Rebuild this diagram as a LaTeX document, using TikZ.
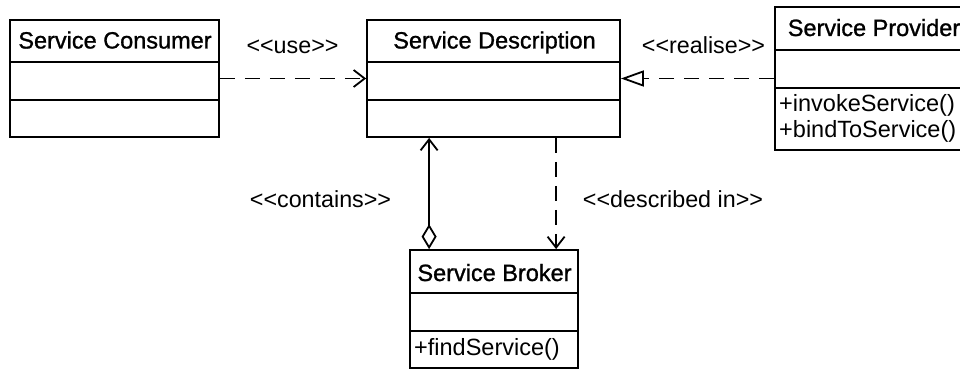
\documentclass[tikz,border=0pt]{standalone}
\usepackage{fontspec}
\setmainfont{Liberation Sans}
\newfontfamily\titlefont[FakeBold=1.1]{Liberation Sans}
\usetikzlibrary{arrows.meta}
\tikzset{
  box/.style={draw, line width=1.8pt, rectangle, inner sep=0pt},
  rule/.style={line width=1.8pt},
  title/.style={font=\titlefont\fontsize{23.5}{27}\selectfont, anchor=base, inner sep=0pt},
  member/.style={font=\fontsize{23.5}{27}\selectfont, anchor=base west, inner sep=0pt},
  stereo/.style={font=\fontsize{23.3}{27}\selectfont, anchor=base, inner sep=0pt},
  dep/.style={line width=1.8pt, dash pattern=on 15pt off 10pt},
  openarrow/.style={-{Straight Barb[length=11pt, width=17pt, line width=1.8pt]}},
}
\begin{document}
\begin{tikzpicture}[x=1pt, y=-1pt]
\useasboundingbox (0,0) rectangle (960,369);
\clip (0,0) rectangle (960,369);
\fill[white] (0,0) rectangle (960,369);

% Service Consumer
\node[box, minimum width=209pt, minimum height=117pt] (cons) at (114.5,78.5) {};
\draw[rule] (10,62) -- (219,62) (10,100) -- (219,100);
\node[title] (consT) at (115,48.5) {Service Consumer};

% Service Description
\node[box, minimum width=253pt, minimum height=117pt] (desc) at (493.5,78.5) {};
\draw[rule] (367,62) -- (620,62) (367,100) -- (620,100);
\node[title] (descT) at (494.5,48.5) {Service Description};

% Service Provider
\node[box, minimum width=198pt, minimum height=143pt] (prov) at (874,78.5) {};
\draw[rule] (775,50) -- (973,50) (775,88) -- (973,88);
\node[title] (provT) at (874,36) {Service Provider};
\node[member] (provM1) at (779,111) {+invokeService()};
\node[member] (provM2) at (779,137) {+bindToService()};

% Service Broker
\node[box, minimum width=168pt, minimum height=118pt] (brok) at (494,309) {};
\draw[rule] (410,293) -- (578,293) (410,331) -- (578,331);
\node[title] (brokT) at (494.5,281) {Service Broker};
\node[member] (brokM1) at (414,355) {+findService()};

% Relationships
\draw[dep, openarrow] (cons.east) -- (desc.west);
\draw[dep, -{Triangle[open, length=23pt, width=16pt, line width=1.8pt]}] (prov.west) -- (desc.east);
\draw[line width=1.8pt, {Diamond[open, length=25pt, width=15pt, line width=1.8pt]}-{Straight Barb[length=11pt, width=17pt, line width=1.8pt]}]
  ([xshift=20pt]brok.north west) -- ([xshift=63pt]desc.south west);
\draw[line width=1.8pt, dash pattern=on 15pt off 9pt, openarrow]
  ([xshift=190pt]desc.south west) -- ([xshift=147pt]brok.north west);

% Stereotype labels
\node[stereo] (lUse) at (292.5,54) {<{}<use>{}>};
\node[stereo] (lReal) at (703.5,54) {<{}<realise>{}>};
\node[stereo] (lCont) at (320.5,207) {<{}<contains>{}>};
\node[stereo] (lDesc) at (673,207) {<{}<described in>{}>};
\end{tikzpicture}
\end{document}
